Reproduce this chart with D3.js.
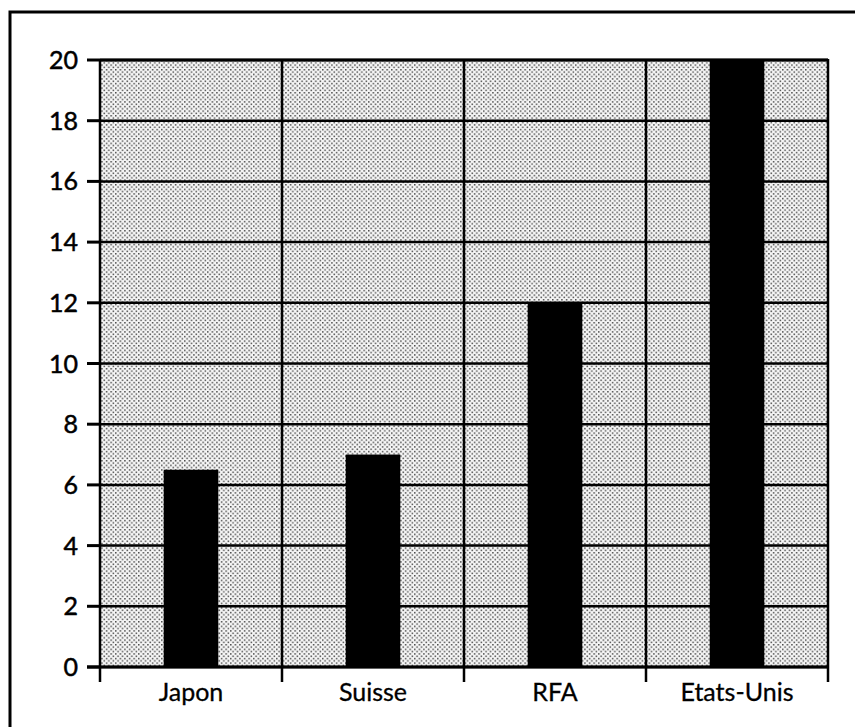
<!DOCTYPE html>
<html><head><meta charset="utf-8">
<script src="https://cdn.jsdelivr.net/npm/d3@7"></script>
<style>html,body{margin:0;padding:0;background:#fff;}svg{display:block;}</style>
</head><body>
<svg id="c" width="855" height="727"></svg>
<script>
const categories = ["Japon", "Suisse", "RFA", "Etats-Unis"];
const values = [6.5, 7, 12, 20];
const yTicks = [0, 2, 4, 6, 8, 10, 12, 14, 16, 18, 20];

const svg = d3.select("#c");
const mLeft = 100, mRight = 828, mTop = 60, mBottom = 667;
const font = "Lato, 'Open Sans', sans-serif";

// outer frame
svg.append("rect").attr("x", 10).attr("y", 12).attr("width", 860).attr("height", 740)
  .attr("fill", "#fff").attr("stroke", "#000").attr("stroke-width", 3);

const defs = svg.append("defs");
const pat = defs.append("pattern").attr("id", "dots").attr("patternUnits", "userSpaceOnUse")
  .attr("width", 4.6).attr("height", 4.6);
pat.append("rect").attr("width", 4.6).attr("height", 4.6).attr("fill", "#f6f6f6");
pat.append("rect").attr("x", 0).attr("y", 0).attr("width", 1.5).attr("height", 1.5).attr("fill", "#4a4a4a");
pat.append("rect").attr("x", 2.3).attr("y", 2.3).attr("width", 1.5).attr("height", 1.5).attr("fill", "#4a4a4a");

const x = d3.scaleBand().domain(categories).range([mLeft, mRight]).padding(0);
const y = d3.scaleLinear().domain([0, 20]).range([mBottom, mTop]);

svg.append("rect").attr("x", mLeft).attr("y", mTop).attr("width", mRight - mLeft).attr("height", mBottom - mTop)
  .attr("fill", "url(#dots)");

// horizontal grid
svg.append("g").selectAll("line").data(yTicks).join("line")
  .attr("x1", mLeft).attr("x2", mRight).attr("y1", d => y(d)).attr("y2", d => y(d))
  .attr("stroke", "#000").attr("stroke-width", 2.5);

// bars
const bw = x.bandwidth() * 0.3;
svg.append("g").selectAll("rect").data(categories).join("rect")
  .attr("x", d => x(d) + (x.bandwidth() - bw) / 2)
  .attr("y", (d, i) => y(values[i]))
  .attr("width", bw)
  .attr("height", (d, i) => y(0) - y(values[i]))
  .attr("fill", "#000");

// vertical grid / boundaries
const bounds = categories.map(c => x(c)).concat([x(categories[categories.length - 1]) + x.bandwidth()]);
svg.append("g").selectAll("line").data(bounds).join("line")
  .attr("x1", d => d).attr("x2", d => d).attr("y1", mTop - 1).attr("y2", mBottom + 15)
  .attr("stroke", "#000").attr("stroke-width", 2.5);

// y axis ticks and labels
const yAxis = svg.append("g");
yAxis.selectAll("line").data(yTicks).join("line")
  .attr("x1", mLeft - 13).attr("x2", mLeft).attr("y1", d => y(d)).attr("y2", d => y(d))
  .attr("stroke", "#000").attr("stroke-width", 3);
yAxis.selectAll("text").data(yTicks).join("text")
  .attr("x", 78).attr("y", d => y(d)).attr("dy", "0.36em")
  .attr("text-anchor", "end").attr("font-family", font).attr("font-size", 25)
  .attr("fill", "#000").attr("stroke", "#000").attr("stroke-width", 0.5).text(d => d);

// bottom axis line and top line
svg.append("line").attr("x1", mLeft - 13).attr("x2", mRight).attr("y1", mBottom).attr("y2", mBottom)
  .attr("stroke", "#000").attr("stroke-width", 3);
svg.append("line").attr("x1", mLeft).attr("x2", mRight).attr("y1", mTop).attr("y2", mTop)
  .attr("stroke", "#000").attr("stroke-width", 3);

// category labels
svg.append("g").selectAll("text").data(categories).join("text")
  .attr("x", d => x(d) + x.bandwidth() / 2).attr("y", 701)
  .attr("text-anchor", "middle").attr("font-family", font).attr("font-size", 25)
  .attr("fill", "#000").attr("stroke", "#000").attr("stroke-width", 0.3).text(d => d);
</script>
</body></html>
